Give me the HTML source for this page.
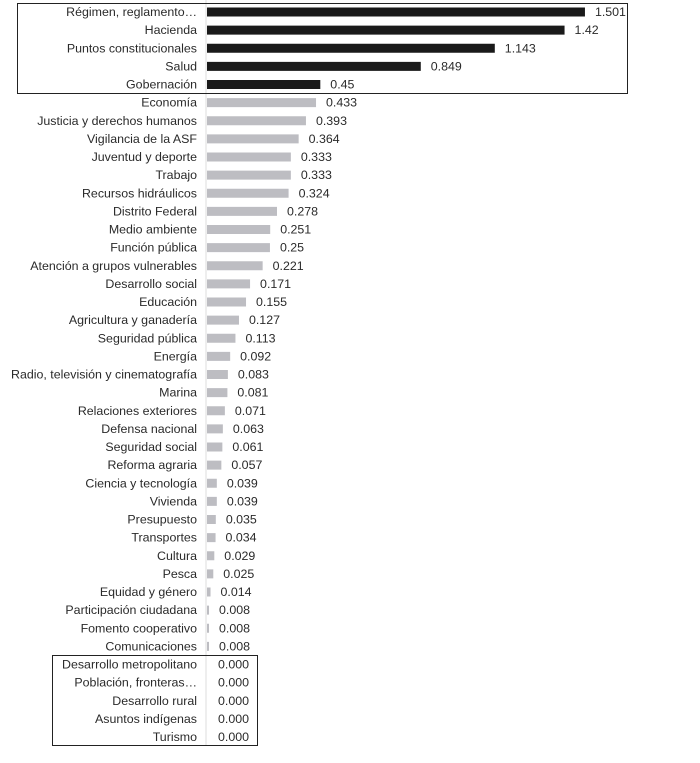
<!DOCTYPE html>
<html><head><meta charset="utf-8"><style>
body{margin:0;background:#fff;width:700px;height:758px;overflow:hidden}
svg text{font-family:"Liberation Sans",sans-serif;font-size:12.4px;fill:#2a2a2a}
</style></head><body>
<svg id="c" width="700" height="758" xmlns="http://www.w3.org/2000/svg"></svg>
<script>
const categories=["Régimen, reglamento…","Hacienda","Puntos constitucionales","Salud","Gobernación","Economía","Justicia y derechos humanos","Vigilancia de la ASF","Juventud y deporte","Trabajo","Recursos hidráulicos","Distrito Federal","Medio ambiente","Función pública","Atención a grupos vulnerables","Desarrollo social","Educación","Agricultura y ganadería","Seguridad pública","Energía","Radio, televisión y cinematografía","Marina","Relaciones exteriores","Defensa nacional","Seguridad social","Reforma agraria","Ciencia y tecnología","Vivienda","Presupuesto","Transportes","Cultura","Pesca","Equidad y género","Participación ciudadana","Fomento cooperativo","Comunicaciones","Desarrollo metropolitano","Población, fronteras…","Desarrollo rural","Asuntos indígenas","Turismo"];
const values=[1.501,1.42,1.143,0.849,0.45,0.433,0.393,0.364,0.333,0.333,0.324,0.278,0.251,0.25,0.221,0.171,0.155,0.127,0.113,0.092,0.083,0.081,0.071,0.063,0.061,0.057,0.039,0.039,0.035,0.034,0.029,0.025,0.014,0.008,0.008,0.008,0,0,0,0,0];
const valueLabels=["1.501","1.42","1.143","0.849","0.45","0.433","0.393","0.364","0.333","0.333","0.324","0.278","0.251","0.25","0.221","0.171","0.155","0.127","0.113","0.092","0.083","0.081","0.071","0.063","0.061","0.057","0.039","0.039","0.035","0.034","0.029","0.025","0.014","0.008","0.008","0.008","0.000","0.000","0.000","0.000","0.000"];
const highlightCount=5;
const svg=document.getElementById('c');const NS="http://www.w3.org/2000/svg";
const x0=207,k=251.8;
const xs=v=>x0+v*k;
const ys=i=>12+i*18.125;
function mk(t,a){const e=document.createElementNS(NS,t);for(const n in a)e.setAttribute(n,a[n]);svg.appendChild(e);return e;}
const ax=mk('line',{x1:206,y1:0,x2:206,y2:746,stroke:'#ddd','stroke-width':1});


categories.forEach((c,i)=>{
 const y=ys(i);
 const l=mk('text',{x:197,y:y+4,'text-anchor':'end'});l.textContent=c;
 
 
 const w=xs(values[i])-x0;
 if(w>0){const r=mk('rect',{x:x0,y:y-4.5,width:Math.max(w,1.5),height:9,fill:i<highlightCount?'#1a1a1a':'#bdbdc2'});
 
 }
 const t=mk('text',{x:values[i]>0?xs(values[i])+10:218,y:y+4});t.textContent=valueLabels[i];
 
 
});
const b1=mk('rect',{x:17.5,y:3.5,width:610,height:90,fill:'none',stroke:'#222','stroke-width':1});


const b2=mk('rect',{x:52.5,y:655.5,width:205,height:90,fill:'none',stroke:'#222','stroke-width':1});


</script>
</body></html>
